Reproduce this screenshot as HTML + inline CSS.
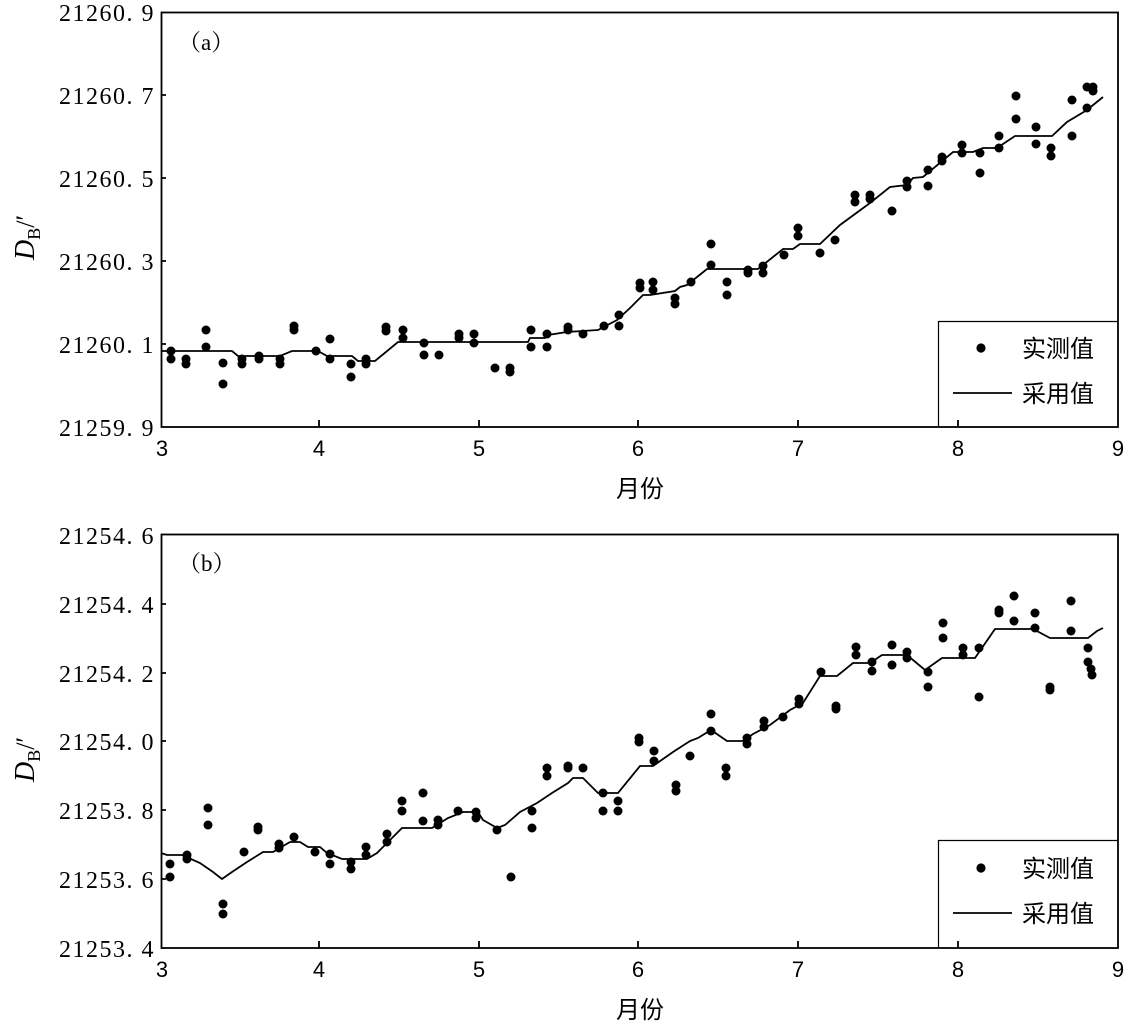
<!DOCTYPE html>
<html><head><meta charset="utf-8"><style>
html,body{margin:0;padding:0;background:#fff;}
svg text{fill:#000;}
.t{font-family:"Liberation Serif","Noto Serif CJK SC",serif;font-size:24px;letter-spacing:1.5px;}
.p{font-family:"Liberation Serif","Noto Serif CJK SC",serif;font-size:23px;}
.x{font-family:"Liberation Sans",sans-serif;font-size:22px;}
.c{font-family:"Liberation Sans","Noto Sans CJK SC",sans-serif;font-size:24px;}
</style></head><body>
<svg width="1126" height="1023" viewBox="0 0 1126 1023" xmlns="http://www.w3.org/2000/svg">
<g fill="none" stroke="#000" stroke-width="1.8">
<rect x="161.5" y="12.5" width="956.5" height="414.5"/>
<rect x="161.5" y="534.5" width="956.5" height="413.5"/>
<path d="M161 95h5M161 178h5M161 261h5M161 344h5
M319 427v-7M479 427v-7M638 427v-7M798 427v-7M958 427v-7
M161 604h5M161 673h5M161 741h5M161 810h5M161 879h5
M319 948v-7M479 948v-7M638 948v-7M798 948v-7M958 948v-7"/>
<path stroke-width="1.2" d="M938.5 427V321.5H1118M938.5 948V840.5H1118"/>
<path d="M953 393H1012M953 913H1012"/>
<polyline points="162,351 232,351 238,356 280,356 292,351 318,351 327,356 352,356 358,361 375,361 398,342 528,342 530,338 545,338 548,335 567,332 598,330 617,320 630,308 643,295 650,295 675,291 680,287 687,285 707,269 758,269 783,249 793,249 800,244 820,244 840,225 870,203 890,187 907,185 913,178 923,177 953,152 973,152 983,148 997,148 1015,136 1052,136 1067,122 1087,110 1103,97"/>
<polyline points="161,853 167,855 182,855 200,863 213,872 222,879 232,872 247,862 263,852 273,852 290,842 300,842 308,847 320,847 327,853 342,859 367,859 377,853 402,828 432,828 448,818 463,812 478,812 483,820 497,828 505,825 520,812 537,803 552,793 568,783 573,778 583,778 598,793 618,793 640,766 653,766 673,752 690,741 698,738 711,730 727,741 743,741 753,734 770,725 790,710 803,703 820,676 837,676 853,663 870,663 882,655 907,655 925,670 942,658 975,658 995,629 1033,629 1050,638 1088,638 1097,631 1103,628"/>
</g>
<g fill="#000">
<circle cx="981" cy="348" r="4.6"/><circle cx="981" cy="868" r="4.6"/>
<g>
<circle cx="171" cy="351" r="4.5"/><circle cx="171" cy="359" r="4.5"/><circle cx="186" cy="359" r="4.5"/><circle cx="186" cy="364" r="4.5"/><circle cx="206" cy="330" r="4.5"/><circle cx="206" cy="347" r="4.5"/><circle cx="223" cy="384" r="4.5"/><circle cx="223" cy="363" r="4.5"/><circle cx="242" cy="359" r="4.5"/><circle cx="242" cy="364" r="4.5"/><circle cx="259" cy="356" r="4.5"/><circle cx="259" cy="359" r="4.5"/><circle cx="280" cy="359" r="4.5"/><circle cx="280" cy="364" r="4.5"/><circle cx="294" cy="326" r="4.5"/><circle cx="294" cy="330" r="4.5"/><circle cx="316" cy="351" r="4.5"/><circle cx="330" cy="339" r="4.5"/><circle cx="330" cy="359" r="4.5"/><circle cx="351" cy="364" r="4.5"/><circle cx="351" cy="377" r="4.5"/><circle cx="366" cy="359" r="4.5"/><circle cx="366" cy="364" r="4.5"/><circle cx="386" cy="327" r="4.5"/><circle cx="386" cy="331" r="4.5"/><circle cx="403" cy="330" r="4.5"/><circle cx="403" cy="338" r="4.5"/><circle cx="424" cy="343" r="4.5"/><circle cx="424" cy="355" r="4.5"/><circle cx="439" cy="355" r="4.5"/><circle cx="459" cy="334" r="4.5"/><circle cx="459" cy="338" r="4.5"/><circle cx="474" cy="334" r="4.5"/><circle cx="474" cy="343" r="4.5"/><circle cx="495" cy="368" r="4.5"/><circle cx="510" cy="368" r="4.5"/><circle cx="510" cy="372" r="4.5"/><circle cx="531" cy="330" r="4.5"/><circle cx="531" cy="347" r="4.5"/><circle cx="547" cy="334" r="4.5"/><circle cx="547" cy="347" r="4.5"/><circle cx="568" cy="327" r="4.5"/><circle cx="568" cy="330" r="4.5"/><circle cx="583" cy="334" r="4.5"/><circle cx="604" cy="326" r="4.5"/><circle cx="619" cy="326" r="4.5"/><circle cx="619" cy="315" r="4.5"/><circle cx="640" cy="283" r="4.5"/><circle cx="640" cy="288" r="4.5"/><circle cx="653" cy="282" r="4.5"/><circle cx="653" cy="290" r="4.5"/><circle cx="675" cy="298" r="4.5"/><circle cx="675" cy="304" r="4.5"/><circle cx="691" cy="282" r="4.5"/><circle cx="711" cy="244" r="4.5"/><circle cx="711" cy="265" r="4.5"/><circle cx="727" cy="282" r="4.5"/><circle cx="727" cy="295" r="4.5"/><circle cx="748" cy="270" r="4.5"/><circle cx="748" cy="273" r="4.5"/><circle cx="763" cy="266" r="4.5"/><circle cx="763" cy="273" r="4.5"/><circle cx="784" cy="255" r="4.5"/><circle cx="798" cy="228" r="4.5"/><circle cx="798" cy="236" r="4.5"/><circle cx="820" cy="253" r="4.5"/><circle cx="835" cy="240" r="4.5"/><circle cx="855" cy="195" r="4.5"/><circle cx="855" cy="202" r="4.5"/><circle cx="870" cy="195" r="4.5"/><circle cx="870" cy="199" r="4.5"/><circle cx="892" cy="211" r="4.5"/><circle cx="907" cy="187" r="4.5"/><circle cx="907" cy="181" r="4.5"/><circle cx="928" cy="186" r="4.5"/><circle cx="928" cy="170" r="4.5"/><circle cx="942" cy="157" r="4.5"/><circle cx="942" cy="161" r="4.5"/><circle cx="962" cy="145" r="4.5"/><circle cx="962" cy="153" r="4.5"/><circle cx="980" cy="153" r="4.5"/><circle cx="980" cy="173" r="4.5"/><circle cx="999" cy="136" r="4.5"/><circle cx="999" cy="148" r="4.5"/><circle cx="1016" cy="96" r="4.5"/><circle cx="1016" cy="119" r="4.5"/><circle cx="1036" cy="127" r="4.5"/><circle cx="1036" cy="144" r="4.5"/><circle cx="1051" cy="148" r="4.5"/><circle cx="1051" cy="156" r="4.5"/><circle cx="1072" cy="100" r="4.5"/><circle cx="1072" cy="136" r="4.5"/><circle cx="1087" cy="87" r="4.5"/><circle cx="1087" cy="108" r="4.5"/><circle cx="1093" cy="87" r="4.5"/><circle cx="1093" cy="91" r="4.5"/>
</g>
<g>
<circle cx="170" cy="864" r="4.5"/><circle cx="170" cy="877" r="4.5"/><circle cx="187" cy="855" r="4.5"/><circle cx="187" cy="859" r="4.5"/><circle cx="208" cy="808" r="4.5"/><circle cx="208" cy="825" r="4.5"/><circle cx="223" cy="904" r="4.5"/><circle cx="223" cy="914" r="4.5"/><circle cx="244" cy="852" r="4.5"/><circle cx="258" cy="827" r="4.5"/><circle cx="258" cy="830" r="4.5"/><circle cx="279" cy="844" r="4.5"/><circle cx="279" cy="848" r="4.5"/><circle cx="294" cy="837" r="4.5"/><circle cx="315" cy="852" r="4.5"/><circle cx="330" cy="854" r="4.5"/><circle cx="330" cy="864" r="4.5"/><circle cx="351" cy="862" r="4.5"/><circle cx="351" cy="869" r="4.5"/><circle cx="366" cy="847" r="4.5"/><circle cx="366" cy="855" r="4.5"/><circle cx="387" cy="834" r="4.5"/><circle cx="387" cy="842" r="4.5"/><circle cx="402" cy="801" r="4.5"/><circle cx="402" cy="811" r="4.5"/><circle cx="423" cy="793" r="4.5"/><circle cx="423" cy="821" r="4.5"/><circle cx="438" cy="820" r="4.5"/><circle cx="438" cy="825" r="4.5"/><circle cx="458" cy="811" r="4.5"/><circle cx="476" cy="812" r="4.5"/><circle cx="476" cy="818" r="4.5"/><circle cx="497" cy="830" r="4.5"/><circle cx="511" cy="877" r="4.5"/><circle cx="532" cy="811" r="4.5"/><circle cx="532" cy="828" r="4.5"/><circle cx="547" cy="768" r="4.5"/><circle cx="547" cy="776" r="4.5"/><circle cx="568" cy="766" r="4.5"/><circle cx="568" cy="768" r="4.5"/><circle cx="583" cy="768" r="4.5"/><circle cx="603" cy="793" r="4.5"/><circle cx="603" cy="811" r="4.5"/><circle cx="618" cy="801" r="4.5"/><circle cx="618" cy="811" r="4.5"/><circle cx="639" cy="738" r="4.5"/><circle cx="639" cy="742" r="4.5"/><circle cx="654" cy="751" r="4.5"/><circle cx="654" cy="761" r="4.5"/><circle cx="676" cy="785" r="4.5"/><circle cx="676" cy="791" r="4.5"/><circle cx="690" cy="756" r="4.5"/><circle cx="711" cy="714" r="4.5"/><circle cx="711" cy="731" r="4.5"/><circle cx="726" cy="768" r="4.5"/><circle cx="726" cy="776" r="4.5"/><circle cx="747" cy="738" r="4.5"/><circle cx="747" cy="744" r="4.5"/><circle cx="764" cy="721" r="4.5"/><circle cx="764" cy="727" r="4.5"/><circle cx="783" cy="717" r="4.5"/><circle cx="799" cy="699" r="4.5"/><circle cx="799" cy="704" r="4.5"/><circle cx="821" cy="672" r="4.5"/><circle cx="836" cy="706" r="4.5"/><circle cx="836" cy="709" r="4.5"/><circle cx="856" cy="647" r="4.5"/><circle cx="856" cy="655" r="4.5"/><circle cx="872" cy="662" r="4.5"/><circle cx="872" cy="671" r="4.5"/><circle cx="892" cy="645" r="4.5"/><circle cx="892" cy="665" r="4.5"/><circle cx="907" cy="652" r="4.5"/><circle cx="907" cy="658" r="4.5"/><circle cx="928" cy="672" r="4.5"/><circle cx="928" cy="687" r="4.5"/><circle cx="943" cy="623" r="4.5"/><circle cx="943" cy="638" r="4.5"/><circle cx="963" cy="648" r="4.5"/><circle cx="963" cy="655" r="4.5"/><circle cx="979" cy="648" r="4.5"/><circle cx="979" cy="697" r="4.5"/><circle cx="999" cy="610" r="4.5"/><circle cx="999" cy="613" r="4.5"/><circle cx="1014" cy="596" r="4.5"/><circle cx="1014" cy="621" r="4.5"/><circle cx="1035" cy="613" r="4.5"/><circle cx="1035" cy="628" r="4.5"/><circle cx="1050" cy="687" r="4.5"/><circle cx="1050" cy="690" r="4.5"/><circle cx="1071" cy="601" r="4.5"/><circle cx="1071" cy="631" r="4.5"/><circle cx="1088" cy="648" r="4.5"/><circle cx="1088" cy="662" r="4.5"/><circle cx="1091" cy="669" r="4.5"/><circle cx="1092" cy="675" r="4.5"/>
</g>
</g>
<g class="t" text-anchor="end">
<text x="155" y="21">21260. 9</text><text x="155" y="104">21260. 7</text><text x="155" y="187">21260. 5</text><text x="155" y="270">21260. 3</text><text x="155" y="353">21260. 1</text><text x="155" y="436">21259. 9</text>
<text x="155" y="544">21254. 6</text><text x="155" y="613">21254. 4</text><text x="155" y="682">21254. 2</text><text x="155" y="750">21254. 0</text><text x="155" y="819">21253. 8</text><text x="155" y="888">21253. 6</text><text x="155" y="957">21253. 4</text>
</g>
<g class="x" text-anchor="middle">
<text x="162" y="456">3</text><text x="319" y="456">4</text><text x="479" y="456">5</text><text x="638" y="456">6</text><text x="798" y="456">7</text><text x="958" y="456">8</text><text x="1118" y="456">9</text>
<text x="162" y="977">3</text><text x="319" y="977">4</text><text x="479" y="977">5</text><text x="638" y="977">6</text><text x="798" y="977">7</text><text x="958" y="977">8</text><text x="1118" y="977">9</text>
</g>
<g class="c" text-anchor="middle">
<text x="640" y="497">月份</text><text x="640" y="1018">月份</text>
</g>
<g class="c">
<text x="1022" y="357">实测值</text><text x="1022" y="402">采用值</text>
<text x="1022" y="877">实测值</text><text x="1022" y="922">采用值</text>
</g>
<g class="p"><text x="178" y="50">（a）</text><text x="178" y="571">（b）</text></g>
<g class="p">
<text transform="translate(34,260) rotate(-90)"><tspan font-style="italic" font-size="28">D</tspan><tspan font-size="18" dy="6">B</tspan><tspan dy="-6" font-size="26">/′</tspan></text>
<text transform="translate(34,782) rotate(-90)"><tspan font-style="italic" font-size="28">D</tspan><tspan font-size="18" dy="6">B</tspan><tspan dy="-6" font-size="26">/′</tspan></text>
</g>
</svg>
</body></html>
